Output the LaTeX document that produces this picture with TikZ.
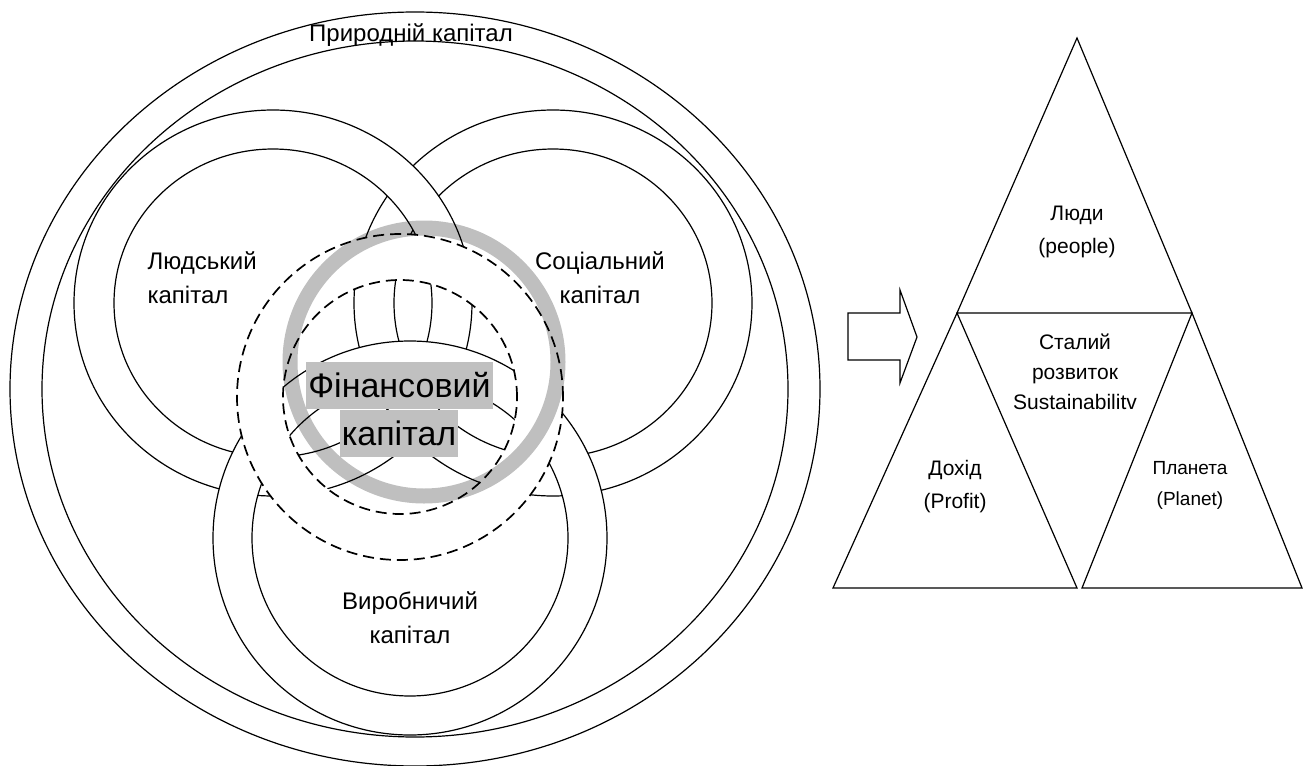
\documentclass[tikz,border=0pt]{standalone}
\usepackage{fontspec}
\setmainfont{Liberation Sans}
\definecolor{silver}{RGB}{192,192,192}
\begin{document}
\begin{tikzpicture}[x=1pt, y=-1pt,
    line width=1.2pt,
    every node/.style={align=center, inner sep=0pt},
    caplabel/.style={font=\fontsize{24}{34}\selectfont},
    trilabel/.style={font=\fontsize{21}{33}\selectfont},
    ringband/.style={fill=white, even odd rule},
    dashring/.style={line width=1.7pt, dash pattern=on 11pt off 6pt},
    finbox/.style={fill=silver, font=\fontsize{34}{40}\selectfont, minimum height=47pt, inner xsep=2pt}]
  \useasboundingbox (0,0) rectangle (1310,766);
  \coordinate (nat) at (415,389);
  \coordinate (hum) at (273,303);
  \coordinate (soc) at (553,303);
  \coordinate (prod) at (410,538);
  \coordinate (core) at (400,397);
  \coordinate (halo) at (424,362);
  \draw (nat) ellipse [x radius=405pt, y radius=377pt];
  \draw (nat) ellipse [x radius=373pt, y radius=348pt];
  \filldraw[ringband] (soc) ellipse [x radius=199pt, y radius=193pt]
                      (soc) ellipse [x radius=159pt, y radius=154pt];
  \filldraw[ringband] (hum) ellipse [x radius=199pt, y radius=193pt]
                      (hum) ellipse [x radius=159pt, y radius=154pt];
  \filldraw[ringband] (prod) circle [radius=197pt] (prod) circle [radius=158pt];
  \fill[ringband] (core) circle [radius=163pt] (core) circle [radius=117pt];
  \draw[black, opacity=0.25, line width=15pt] (halo) circle [radius=134pt];
  \draw[dashring] (core) circle [radius=163pt];
  \draw[dashring] (core) circle [radius=117pt];
  \node[caplabel] (natural) at (411,35) {Природній капітал};
  \node[caplabel, align=left, anchor=west] (human) at (147,278) {Людський\\капітал};
  \node[caplabel] (social) at (600,278) {Соціальний\\капітал};
  \node[caplabel] (production) at (410,618) {Виробничий\\капітал};
  \node[finbox] (fin_top) at (399.5,385.5) {Фінансовий};
  \node[finbox] (fin_bottom) at (399,433.5) {капітал};
  \draw (848,313) -- (900,313) -- (900,290) -- (917,337) -- (900,383) -- (900,360) -- (848,360) -- cycle;
  \coordinate (apex) at (1077,38);
  \coordinate (ml) at (957,313);
  \coordinate (mr) at (1192,313);
  \coordinate (bl) at (833,588);
  \coordinate (bc) at (1077,588);
  \coordinate (bd) at (1082,588);
  \coordinate (br) at (1302,588);
  \draw (apex) -- (ml) -- (mr) -- cycle;
  \draw (ml) -- (bl) -- (bc) -- cycle;
  \draw (mr) -- (bd) -- (br) -- cycle;
  \node[trilabel] (people) at (1077,232) {Люди\\(people)};
  \node[trilabel, font=\fontsize{21}{30}\selectfont] (sustain) at (1075,372) {Сталий\\розвиток\\Sustainabilitv};
  \node[trilabel] (profit) at (955,487) {Дохід\\(Profit)};
  \node[trilabel, font=\fontsize{19}{31}\selectfont] (planet) at (1190,485) {Планета\\(Planet)};
\end{tikzpicture}
\end{document}
